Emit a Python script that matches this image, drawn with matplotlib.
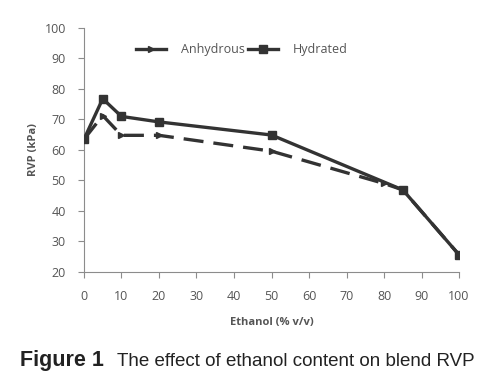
import matplotlib.pyplot as plt
from matplotlib.lines import Line2D

ethanol_anh = [0, 5, 10, 20, 50, 80, 85, 100]
rvp_anh = [63.5, 71.3, 64.8, 64.8, 59.6, 49.0, 46.9, 25.6]
ethanol_hyd = [0, 5, 10, 20, 50, 85, 100]
rvp_hyd = [63.5, 76.8, 71.0, 69.2, 64.9, 46.9, 25.6]

xticks = list(range(0, 101, 10))
yticks = list(range(20, 101, 10))

line_col = '#333333'
grey = '#8c8c8c'
text_col = '#555555'

fig = plt.figure(figsize=(4.91, 3.89), dpi=100)
ax = fig.add_axes([0.171, 0.301, 0.764, 0.627])

ax.plot(ethanol_hyd, rvp_hyd, color=line_col, linewidth=2.4, marker='s',
        markersize=6, label='Hydrated', zorder=3)
ax.plot(ethanol_anh, rvp_anh, color=line_col, linewidth=2.4, linestyle=(0, (6, 3)),
        marker='>', markersize=5, label='Anhydrous', zorder=4)

ax.set_xlim(0, 100)
ax.set_ylim(20, 100)
ax.set_xticks(xticks)
ax.set_yticks(yticks)

for side in ['top', 'right']:
    ax.spines[side].set_visible(False)
for side in ['left', 'bottom']:
    ax.spines[side].set_color(grey)
    ax.spines[side].set_linewidth(0.8)
ax.tick_params(colors=grey, labelcolor=text_col, labelsize=9, length=4,
               direction='out', pad=9)
for lab in ax.get_xticklabels() + ax.get_yticklabels():
    lab.set_family('Open Sans')

ax.set_xlabel('Ethanol (% v/v)', fontsize=8, fontweight='bold', color=text_col,
              family='Open Sans', labelpad=10)
ax.set_ylabel('RVP (kPa)', fontsize=8, fontweight='bold', color=text_col,
              family='Open Sans', labelpad=4)

# legend handles drawn solid, as in the original
leg_handles = [
    Line2D([], [], color=line_col, linewidth=2.4, marker='>', markersize=5),
    Line2D([], [], color=line_col, linewidth=2.4, marker='s', markersize=6),
]
leg = ax.legend(leg_handles, ['Anhydrous', 'Hydrated'], loc='center left', ncol=2,
                frameon=False, bbox_to_anchor=(0.11, 0.91), fontsize=9,
                handlelength=2.4, columnspacing=0.2, handletextpad=1.2)
for t in leg.get_texts():
    t.set_color(text_col)
    t.set_family('Open Sans')

fig.text(0.04, 0.058, 'Figure 1', fontsize=15.5, fontweight='bold',
         family='Liberation Sans', color='#222222')
fig.text(0.238, 0.058, 'The effect of ethanol content on blend RVP', fontsize=13.5,
         family='Liberation Sans', color='#222222')

fig.savefig('out.png', dpi=100)
